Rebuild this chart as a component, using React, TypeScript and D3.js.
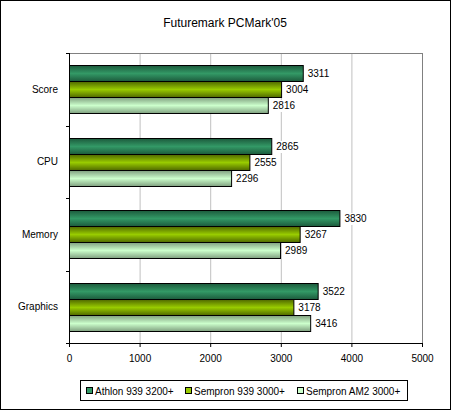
import React from "react";
import * as d3 from "d3";

const categories = ["Score", "CPU", "Memory", "Graphics"];
const seriesNames = ["Athlon 939 3200+", "Sempron 939 3000+", "Sempron AM2 3000+"];
const athlon = [3311, 2865, 3830, 3522];
const sempron939 = [3004, 2555, 3267, 3178];
const sempronAM2 = [2816, 2296, 2989, 3416];
const xTicks = [0, 1000, 2000, 3000, 4000, 5000];
const seriesColors = ["#339966", "#99cc00", "#ccffcc"];
const seriesDark = ["#1c5a3c", "#4f6800", "#7f9f7f"];

const W = 451;
const H = 410;
const FONT = "'Liberation Sans', Arial, sans-serif";

export default function App() {
  const seriesValues = [athlon, sempron939, sempronAM2];
  const left = 69, right = 422, top = 53, bottom = 343;
  const x = d3.scaleLinear().domain([0, 5000]).range([left, right]);
  const y = d3.scaleBand<string>().domain(categories).range([top, bottom]).padding(0);
  const yInner = d3
    .scaleBand<number>()
    .domain([0, 1, 2])
    .range([0, y.bandwidth()])
    .paddingInner(0)
    .paddingOuter(0.766);
  const legendX = [86, 185, 297];

  return (
    <svg
      width={W}
      height={H}
      style={{ position: "fixed", left: 0, top: 0, background: "#fff" }}
      fontFamily={FONT}
    >
      <defs>
        {seriesColors.map((c, i) => (
          <linearGradient key={i} id={`g${i}`} x1="0" y1="0" x2="0" y2="1">
            <stop offset="0%" stopColor={seriesDark[i]} />
            <stop offset="50%" stopColor={c} />
            <stop offset="100%" stopColor={seriesDark[i]} />
          </linearGradient>
        ))}
      </defs>
      <rect x={0.5} y={0.5} width={W - 1} height={H - 1} fill="#fff" stroke="#000" />
      <text x={225} y={27} fontSize={12} textAnchor="middle" fill="#000">
        Futuremark PCMark'05
      </text>
      {xTicks.slice(1, -1).map((t) => (
        <line key={t} x1={x(t) + 0.5} x2={x(t) + 0.5} y1={top} y2={bottom} stroke="#c0c0c0" />
      ))}
      <line x1={left} x2={right + 0.5} y1={top + 0.5} y2={top + 0.5} stroke="#808080" />
      <line x1={right + 0.5} x2={right + 0.5} y1={top} y2={bottom} stroke="#808080" />
      {categories.map((cat, ci) =>
        seriesValues.map((vals, si) => {
          const y0 = (y(cat) as number) + (yInner(si) as number);
          const h = yInner.bandwidth();
          const x1 = x(vals[ci]);
          return (
            <rect
              key={`${ci}-${si}`}
              x={left + 0.5}
              y={Math.round(y0) + 0.5}
              width={x1 - left}
              height={Math.round(h)}
              fill={`url(#g${si})`}
              stroke="#000"
            />
          );
        })
      )}
      {categories.map((cat, ci) =>
        seriesValues.map((vals, si) => {
          const y0 = (y(cat) as number) + (yInner(si) as number);
          const h = yInner.bandwidth();
          const x1 = x(vals[ci]);
          return (
            <g key={`l${ci}-${si}`}>
              <rect x={x1 + 3} y={Math.round(y0) + 3} width={26} height={12} fill="#fff" />
              <text x={x1 + 5} y={Math.round(y0) + h / 2 + 4} fontSize={10} fill="#000">
                {vals[ci]}
              </text>
            </g>
          );
        })
      )}
      <line x1={left + 0.5} x2={left + 0.5} y1={top} y2={bottom + 0.5} stroke="#000" />
      <line x1={left} x2={right + 1} y1={bottom + 0.5} y2={bottom + 0.5} stroke="#000" />
      {[top, ...categories.map((c) => (y(c) as number) + y.bandwidth())].map((v, i) => (
        <line key={i} x1={left - 3} x2={left} y1={Math.round(v) + 0.5} y2={Math.round(v) + 0.5} stroke="#000" />
      ))}
      {xTicks.map((t) => (
        <g key={t}>
          <line x1={x(t) + 0.5} x2={x(t) + 0.5} y1={bottom} y2={bottom + 4} stroke="#000" />
          <text x={x(t) + 0.5} y={362} fontSize={10} textAnchor="middle" fill="#000">
            {t}
          </text>
        </g>
      ))}
      {categories.map((c) => (
        <text
          key={c}
          x={58}
          y={(y(c) as number) + y.bandwidth() / 2 + 3.5}
          fontSize={10}
          textAnchor="end"
          fill="#000"
        >
          {c}
        </text>
      ))}
      <rect x={80.5} y={380.5} width={327} height={20} fill="#fff" stroke="#000" />
      {seriesNames.map((n, i) => (
        <g key={n}>
          <rect x={legendX[i] + 0.5} y={387.5} width={6} height={6} fill={seriesColors[i]} stroke="#000" />
          <text x={legendX[i] + 9} y={394.5} fontSize={10} fill="#000">
            {n}
          </text>
        </g>
      ))}
    </svg>
  );
}
